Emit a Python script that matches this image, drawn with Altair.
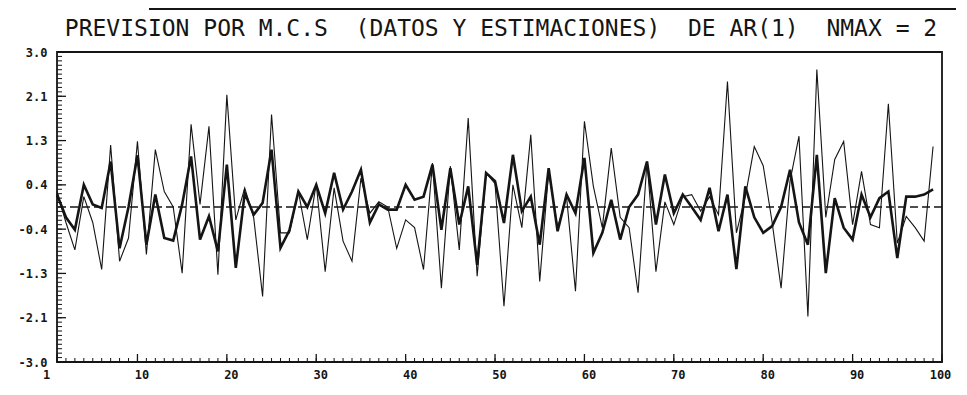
import altair as alt
import pandas as pd

# index of observation
idx = list(range(1, 100))

# thin line: data (DATOS)
datos = [0.3, -0.3, -0.83, 0.2, -0.3, -1.21, 1.2, -1.05, -0.6, 1.27,
         -0.92, 1.11, 0.3, 0.0, -1.28, 1.6, 0.05, 1.56, -1.31, 2.17,
         -0.25, 0.37, -0.2, -1.73, 1.79, -0.5, -0.5, 0.3, -0.63, 0.45,
         -1.25, 0.37, -0.66, -1.05, 0.56, -0.12, 0.1, 0.0, -0.8, -0.25,
         -0.4, -1.21, 0.85, -1.57, 0.79, -0.83, 1.72, -1.34, 0.66, 0.45,
         -1.92, 0.43, -0.4, 1.4, -1.44, 0.69, -0.4, 0.2, -1.63, 1.66,
         0.4, -0.4, 1.14, -0.2, -0.4, -1.66, 0.88, -1.25, 0.1, -0.34,
         0.2, 0.24, -0.08, 0.2, -0.15, 2.43, -0.5, 0.2, 1.17, 0.8,
         -0.3, -1.57, 0.5, 1.37, -2.12, 2.66, -0.2, 0.92, 1.27, -0.34,
         0.69, -0.34, -0.4, 2.0, -0.7, -0.18, -0.4, -0.66, 1.17]

# thick line: estimates (ESTIMACIONES)
estim = [0.24, -0.2, -0.44, 0.43, 0.05, -0.02, 0.88, -0.8, 0.0, 1.0,
         -0.73, 0.24, -0.6, -0.65, 0.05, 0.98, -0.63, -0.18, -0.86, 0.82,
         -1.18, 0.27, -0.15, 0.08, 1.11, -0.79, -0.45, 0.3, 0.0, 0.43,
         -0.12, 0.66, -0.05, 0.3, 0.72, -0.3, 0.05, -0.05, -0.05, 0.43,
         0.14, 0.2, 0.82, -0.44, 0.75, -0.34, 0.4, -1.12, 0.66, 0.5,
         -0.31, 1.01, -0.08, 0.2, -0.73, 0.75, -0.47, 0.24, -0.12, 0.95,
         -0.89, -0.5, 0.14, -0.63, 0.0, 0.24, 0.88, -0.34, 0.63, -0.12,
         0.24, 0.0, -0.25, 0.37, -0.47, 0.24, -1.2, 0.4, -0.2, -0.5,
         -0.37, 0.0, 0.72, -0.3, -0.73, 1.01, -1.28, 0.17, -0.4, -0.63,
         0.24, -0.2, 0.17, 0.3, -0.99, 0.2, 0.2, 0.24, 0.34]

NB = "\u00a0"
title_text = ["PREVISION POR M.C.S" + NB * 2 + "(DATOS Y ESTIMACIONES)" + NB * 2
              + "DE AR(1)" + NB * 2 + "NMAX = 2"]

y_major = [-3 + k * 6 / 7 for k in range(8)]
y_minor = [-3 + k * 6 / 70 for k in range(71)]
x_major = [1, 10, 20, 30, 40, 50, 60, 70, 80, 90, 100]
x_minor = list(range(1, 101))
zero = [0.0]

W, H = 885, 310
FONT = "DejaVu Sans Mono"
INK = "#151515"

xs = alt.Scale(domain=[1, 100], nice=False, zero=False)
ys = alt.Scale(domain=[-3, 3], nice=False, zero=False)

df = pd.DataFrame({"i": idx, "datos": datos, "estim": estim})

xaxis = alt.Axis(values=x_major, labelFont=FONT, labelFontWeight="bold", labelFontSize=12,
                 labelColor=INK, domain=False, ticks=False, labelPadding=7,
                 grid=False, title=None, labelFlush=False,
                 labelOffset=alt.expr("datum.value == 1 ? -11 : (datum.value == 100 ? -2 : 4)"))
yaxis = alt.Axis(values=y_major, labelFont=FONT, labelFontWeight="bold", labelFontSize=12,
                 labelColor=INK, domain=False, ticks=False, labelPadding=10,
                 grid=False, title=None,
                 labelExpr="(datum.value < -0.001 ? '-' : '') + format(abs(datum.value), '.1f')")


def X(field):
    return alt.X(field, scale=xs, axis=xaxis)


def Y(field):
    return alt.Y(field, scale=ys, axis=yaxis)


thin = alt.Chart(df).mark_line(color=INK, strokeWidth=1.1).encode(
    x=X("i:Q"), y=Y("datos:Q"))
thick = alt.Chart(df).mark_line(color=INK, strokeWidth=2.6).encode(
    x=X("i:Q"), y=Y("estim:Q"))

zline = alt.Chart(pd.DataFrame({"v": zero})).mark_rule(
    color=INK, strokeWidth=1.6, strokeDash=[8, 4]
).encode(y=Y("v:Q"))

ymin_r = alt.Chart(pd.DataFrame({"v": y_minor})).mark_rule(color=INK, strokeWidth=1).encode(
    y=Y("v:Q"), x=alt.value(0), x2=alt.value(5))
ymaj_r = alt.Chart(pd.DataFrame({"v": y_major})).mark_rule(color=INK, strokeWidth=1.3).encode(
    y=Y("v:Q"), x=alt.value(0), x2=alt.value(9))
xmin_r = alt.Chart(pd.DataFrame({"v": x_minor})).mark_rule(color=INK, strokeWidth=1).encode(
    x=X("v:Q"), y=alt.value(H), y2=alt.value(H - 4))
xmaj_r = alt.Chart(pd.DataFrame({"v": x_major})).mark_rule(color=INK, strokeWidth=1.3).encode(
    x=X("v:Q"), y=alt.value(H), y2=alt.value(H - 8))

toprule = alt.Chart(pd.DataFrame({"v": zero})).mark_rule(color=INK, strokeWidth=2).encode(
    x=alt.value(92), x2=alt.value(905), y=alt.value(-43))

title = alt.Chart(pd.DataFrame({"t": title_text})).mark_text(
    font=FONT, fontSize=23, color=INK, align="center", baseline="middle"
).encode(text="t:N", x=alt.value(444), y=alt.value(-23))

chart = alt.layer(
    zline, thin, thick, ymin_r, ymaj_r, xmin_r, xmaj_r, toprule, title
).properties(
    width=W, height=H,
    autosize=alt.AutoSizeParams(type="none"),
    padding={"left": 49, "top": 44, "right": 14, "bottom": 19},
).configure(background="white").configure_view(stroke=INK, strokeWidth=1.8)

chart.save("out.html", embed_options={"renderer": "svg", "actions": False})
